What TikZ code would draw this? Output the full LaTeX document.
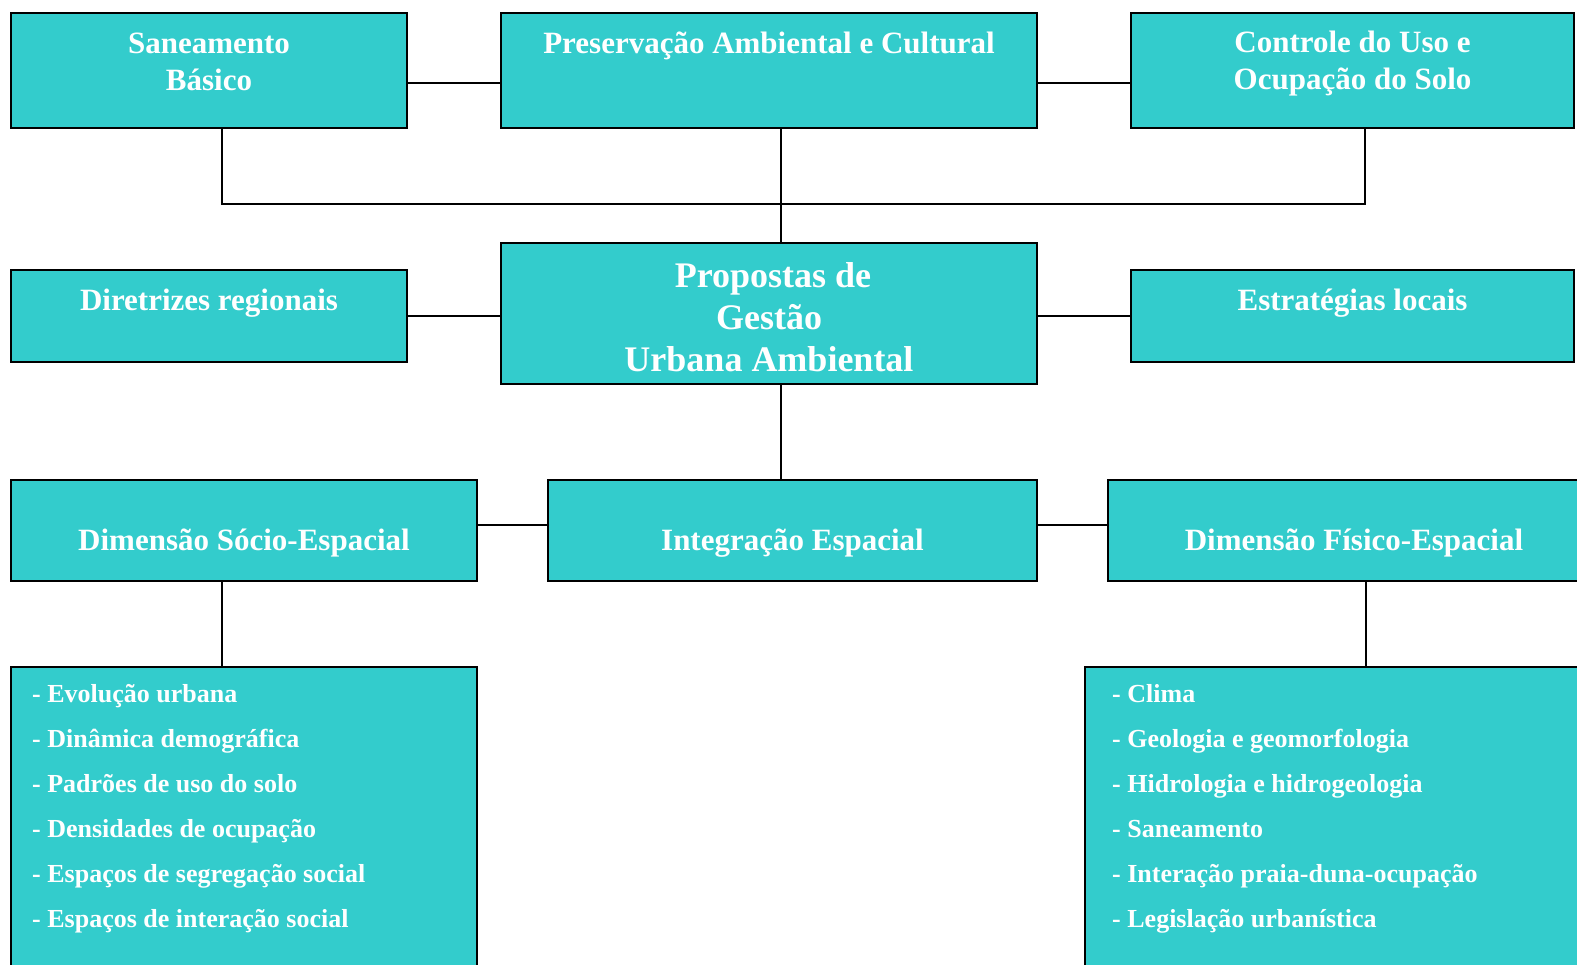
\documentclass[tikz,border=0pt]{standalone}
\usepackage{fontspec}
\setmainfont{Liberation Serif}
\usetikzlibrary{calc}

\definecolor{turq}{HTML}{33CCCC}

\newcommand{\cstack}[1]{\begin{tabular}[t]{@{}c@{}}#1\end{tabular}}
\newcommand{\lstack}[1]{\begin{tabular}[t]{@{}l@{}}#1\end{tabular}}

\tikzset{
  box/.style={draw=black, line width=2.6pt, fill=turq, rectangle, inner sep=0pt},
  link/.style={draw=black, line width=1.6pt},
  title/.style={text=white, inner sep=0pt, anchor=base,
    font=\fontsize{31}{37}\selectfont\bfseries},
  bigtitle/.style={text=white, inner sep=0pt, anchor=base,
    font=\fontsize{36}{42}\selectfont\bfseries},
  items/.style={text=white, inner sep=0pt, anchor=base west,
    font=\fontsize{26}{45}\selectfont\bfseries},
}

\begin{document}
\begin{tikzpicture}[x=1pt, y=-1pt]
\useasboundingbox (0,0) rectangle (1577,964);
\clip (0,0) rectangle (1577,964);

% top row
\node[box, minimum width=396pt, minimum height=115pt] (san)  at (209,70.5) {};
\node[box, minimum width=536pt, minimum height=115pt] (pres) at (769,70.5) {};
\node[box, minimum width=443pt, minimum height=115pt] (ctrl) at (1352.5,70.5) {};

% middle row
\node[box, minimum width=396pt, minimum height=92pt]  (dir)  at (209,316) {};
\node[box, minimum width=536pt, minimum height=141pt] (prop) at (769,313.5) {};
\node[box, minimum width=443pt, minimum height=92pt]  (est)  at (1352.5,316) {};

% third row
\node[box, minimum width=466pt, minimum height=101pt] (soc)   at (244,530.5) {};
\node[box, minimum width=489pt, minimum height=101pt] (integ) at (792.5,530.5) {};
\node[box, minimum width=492pt, minimum height=101pt] (fis)   at (1354,530.5) {};

% detail lists
\node[box, minimum width=466pt, minimum height=333pt] (socl) at (244,833.5) {};
\node[box, minimum width=535pt, minimum height=333pt] (fisl) at (1352.5,833.5) {};

% labels
\node[title] (tsan)  at (209,53)    {\cstack{Saneamento\\Básico}};
\node[title] (tpres) at (769,53)    {\cstack{Preservação Ambiental e Cultural}};
\node[title] (tctrl) at (1352.5,52) {\cstack{Controle do Uso e\\Ocupação do Solo}};
\node[title] (tdir)  at (209,310)   {Diretrizes regionais};
\node[title] (test)  at (1352.5,310){Estratégias locais};
\node[bigtitle] (tprop) at (769,287) {\cstack{\hspace*{8pt}Propostas de\\Gestão\\Urbana Ambiental}};
\node[title] (tsoc)  at (244,550)   {Dimensão Sócio-Espacial};
\node[title] (tint)  at (792.5,550) {Integração Espacial};
\node[title] (tfis)  at (1354,550)  {Dimensão Físico-Espacial};

\node[items] (lsoc) at (32,702) {\lstack{- Evolução urbana\\
  - Dinâmica demográfica\\
  - Padrões de uso do solo\\
  - Densidades de ocupação\\
  - Espaços de segregação social\\
  - Espaços de interação social}};
\node[items] (lfis) at (1112,702) {\lstack{- Clima\\
  - Geologia e geomorfologia\\
  - Hidrologia e hidrogeologia\\
  - Saneamento\\
  - Interação praia-duna-ocupação\\
  - Legislação urbanística}};

% reference points for the connectors
\coordinate (rowA) at (0,83);
\coordinate (rowB) at (0,316);
\coordinate (rowC) at (0,525);
\coordinate (busL) at (222,204);
\coordinate (busR) at (1365,204);
\coordinate (mid)  at (781,0);
\coordinate (dropR) at (1366,0);

% top row links
\draw[link] (san.east |- rowA) -- (pres.west |- rowA);
\draw[link] (pres.east |- rowA) -- (ctrl.west |- rowA);

% bus into the central box
\draw[link] (san.south -| busL) -- (busL) -- (busR) -- (ctrl.south -| busR);
\draw[link] (pres.south -| mid) -- (prop.north -| mid);

% middle row links
\draw[link] (dir.east |- rowB) -- (prop.west |- rowB);
\draw[link] (prop.east |- rowB) -- (est.west |- rowB);

% down to the integration row
\draw[link] (prop.south -| mid) -- (integ.north -| mid);
\draw[link] (soc.east |- rowC) -- (integ.west |- rowC);
\draw[link] (integ.east |- rowC) -- (fis.west |- rowC);

% down to the lists
\draw[link] (soc.south -| busL) -- (socl.north -| busL);
\draw[link] (fis.south -| dropR) -- (fisl.north -| dropR);
\end{tikzpicture}
\end{document}
